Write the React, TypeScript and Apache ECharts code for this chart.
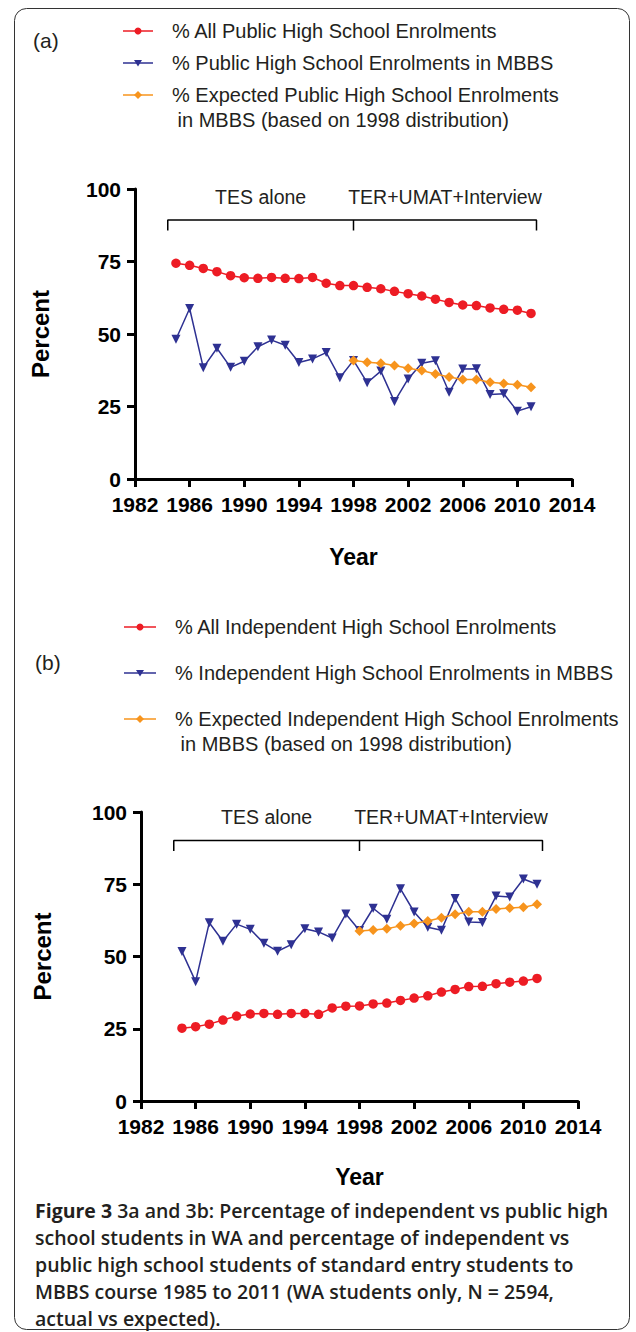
import React, { useEffect, useRef } from "react";
import * as echarts from "echarts";

// ---------- data ----------
const YEARS = [1985, 1986, 1987, 1988, 1989, 1990, 1991, 1992, 1993, 1994, 1995, 1996, 1997, 1998, 1999, 2000, 2001, 2002, 2003, 2004, 2005, 2006, 2007, 2008, 2009, 2010, 2011];
const EXP_YEARS = [1998, 1999, 2000, 2001, 2002, 2003, 2004, 2005, 2006, 2007, 2008, 2009, 2010, 2011];

const A_ALL_PUBLIC = [74.4, 73.7, 72.6, 71.5, 70.1, 69.4, 69.2, 69.5, 69.2, 69.1, 69.5, 67.5, 66.7, 66.7, 66.1, 65.6, 64.7, 63.9, 63.1, 62.0, 60.9, 60.0, 59.8, 59.0, 58.5, 58.2, 57.1];
const A_PUBLIC_MBBS = [48.2, 58.8, 38.4, 45.1, 38.5, 40.6, 45.6, 47.9, 46.1, 40.2, 41.4, 43.6, 34.9, 40.9, 33.2, 37.2, 26.7, 34.5, 39.9, 40.8, 29.9, 37.9, 38.0, 29.1, 29.4, 23.4, 24.9];
const A_EXPECTED = [40.9, 40.3, 39.9, 39.1, 38.2, 37.4, 36.2, 35.2, 34.3, 34.3, 33.4, 32.9, 32.5, 31.6];

const B_ALL_INDEP = [25.2, 25.7, 26.6, 28.0, 29.4, 30.1, 30.3, 30.0, 30.3, 30.3, 30.0, 32.2, 32.8, 32.9, 33.6, 33.9, 34.8, 35.6, 36.4, 37.7, 38.6, 39.6, 39.7, 40.6, 41.1, 41.5, 42.4];
const B_INDEP_MBBS = [51.7, 41.3, 61.7, 55.3, 61.2, 59.4, 54.6, 51.8, 54.1, 59.6, 58.5, 56.4, 64.7, 59.0, 66.7, 62.9, 73.4, 65.4, 60.1, 59.1, 70.1, 61.9, 61.8, 70.9, 70.6, 76.8, 75.0];
const B_EXPECTED = [58.8, 59.2, 59.6, 60.6, 61.4, 62.3, 63.4, 64.6, 65.5, 65.5, 66.4, 66.8, 67.0, 68.1];

const A_NAMES = [
  "% All Public High School Enrolments",
  "% Public High School Enrolments in MBBS",
  "% Expected Public High School Enrolments\n in MBBS (based on 1998 distribution)",
];
const B_NAMES = [
  "% All Independent High School Enrolments",
  "% Independent High School Enrolments in MBBS",
  "% Expected Independent High School Enrolments\n in MBBS (based on 1998 distribution)",
];

// period brackets (years) and labels
const PERIOD_LABELS = ["TES alone", "TER+UMAT+Interview"];
const PERIOD_BOUNDS = [1984.4, 1998, 2011.4];

const CAPTION_LINES = [
  "{b|Figure 3} 3a and 3b: Percentage of independent vs public high",
  "school students in WA and percentage of independent vs",
  "public high school students of standard entry students to",
  "MBBS course 1985 to 2011 (WA students only, N = 2594,",
  "actual vs expected).",
];

export default function App() {
  const ref = useRef<HTMLDivElement>(null);

  useEffect(() => {
    const chart = echarts.init(ref.current!, null, { renderer: "svg" });
    const FONT = "Liberation Sans, Arial, Helvetica, sans-serif";
    const CAP_FONT = "Open Sans, Noto Sans, sans-serif";
    const RED = "#ED1C24";
    const BLUE = "#2E3192";
    const ORANGE = "#F7941D";
    const TXT = "#231F20";

    const pair = (xs: number[], ys: number[]) => xs.map((x, i) => [x, ys[i]]);

    const grids = [
      { left: 135, top: 189, width: 437, height: 290 },
      { left: 141, top: 812, width: 437, height: 289 },
    ];
    const bracketY = [89.3, 90.1];
    const tickLen = 3.6;

    const xAxis = grids.map((_, i) => ({
      type: "value",
      gridIndex: i,
      min: 1982,
      max: 2014,
      interval: 4,
      axisLine: { show: true, onZero: false, lineStyle: { color: "#000", width: 3 } },
      axisTick: { show: true, inside: false, length: 8, lineStyle: { color: "#000", width: 3 } },
      axisLabel: {
        color: "#000", fontWeight: "bold", fontSize: 21, fontFamily: FONT, margin: 15,
        formatter: (v: number) => String(v),
      },
      splitLine: { show: false },
      name: "Year",
      nameLocation: "middle",
      nameGap: i === 0 ? 66 : 64,
      nameTextStyle: { color: "#000", fontWeight: "bold", fontSize: 23, fontFamily: FONT },
    }));
    const yAxis = grids.map((_, i) => ({
      type: "value",
      gridIndex: i,
      min: 0,
      max: 100,
      interval: 25,
      axisLine: { show: true, onZero: false, lineStyle: { color: "#000", width: 3 } },
      axisTick: { show: true, inside: false, length: 8, lineStyle: { color: "#000", width: 3 } },
      axisLabel: { color: "#000", fontWeight: "bold", fontSize: 21, fontFamily: FONT, margin: 14 },
      splitLine: { show: false },
      name: "Percent",
      nameLocation: "middle",
      nameRotate: 90,
      nameGap: i === 0 ? 83 : 87,
      nameTextStyle: { color: "#000", fontWeight: "bold", fontSize: 24, fontFamily: FONT },
    }));

    const mkSeries = (i: number, names: string[], all: number[], mbbs: number[], exp: number[]) => {
      const b = PERIOD_BOUNDS;
      const y = bracketY[i];
      const t = y - tickLen;
      return [
        {
          type: "line", name: names[1], xAxisIndex: i, yAxisIndex: i,
          data: pair(YEARS, mbbs),
          symbol: "triangle", symbolRotate: 180, symbolSize: 9,
          lineStyle: { color: BLUE, width: 1.5 }, itemStyle: { color: BLUE },
          z: 3,
        },
        {
          type: "line", name: names[2], xAxisIndex: i, yAxisIndex: i,
          data: pair(EXP_YEARS, exp),
          symbol: "diamond", symbolSize: 10,
          lineStyle: { color: ORANGE, width: 1.5 }, itemStyle: { color: ORANGE },
          z: 4,
        },
        {
          type: "line", name: names[0], xAxisIndex: i, yAxisIndex: i,
          data: pair(YEARS, all),
          symbol: "circle", symbolSize: 9.5,
          lineStyle: { color: RED, width: 1.5 }, itemStyle: { color: RED },
          z: 5,
        },
        {
          type: "line", name: "bracket" + i, xAxisIndex: i, yAxisIndex: i, silent: true,
          data: [[b[0], t], [b[0], y], [b[1], y], [b[1], t], [b[1], y], [b[2], y], [b[2], t]],
          symbol: "none",
          lineStyle: { color: "#000", width: 1.5 },
          z: 2,
        },
      ];
    };

    const series = [
      ...mkSeries(0, A_NAMES, A_ALL_PUBLIC, A_PUBLIC_MBBS, A_EXPECTED),
      ...mkSeries(1, B_NAMES, B_ALL_INDEP, B_INDEP_MBBS, B_EXPECTED),
    ];

    chart.setOption({
      animation: false,
      backgroundColor: "#fff",
      grid: grids.map((g) => ({ ...g, containLabel: false })),
      xAxis,
      yAxis,
      series,
    });

    // ---------- graphic elements ----------
    const graphic: any[] = [];
    graphic.push({
      type: "rect", id: "border", z: 0,
      shape: { x: 14.5, y: 8.5, width: 615, height: 1321, r: 12 },
      style: { fill: "none", stroke: "#333", lineWidth: 1 },
    });

    const marker = (kind: string, cx: number, cy: number, color: string) => {
      if (kind === "circle") return { type: "circle", shape: { cx, cy, r: 3.5 }, style: { fill: color } };
      if (kind === "tri")
        return { type: "polygon", shape: { points: [[cx - 4, cy - 3], [cx + 4, cy - 3], [cx, cy + 3.5]] }, style: { fill: color } };
      return { type: "polygon", shape: { points: [[cx, cy - 4], [cx + 4, cy], [cx, cy + 4], [cx - 4, cy]] }, style: { fill: color } };
    };

    const legend = (names: string[], rows: number[], lx1: number, lx2: number, tx: number) => {
      const kinds = ["circle", "tri", "dia"];
      const colors = [RED, BLUE, ORANGE];
      names.forEach((n, k) => {
        const y = rows[k];
        graphic.push({ type: "line", shape: { x1: lx1, y1: y, x2: lx2, y2: y }, style: { stroke: colors[k], lineWidth: 1.5 } });
        graphic.push(marker(kinds[k], (lx1 + lx2) / 2, y, colors[k]));
        const multi = n.includes("\n");
        graphic.push({
          type: "text", x: tx, y: multi ? y - 12.5 : y,
          style: {
            text: n, fill: TXT, fontSize: 20, fontFamily: FONT, lineHeight: 25,
            verticalAlign: multi ? "top" : "middle", align: "left",
          },
        });
      });
    };
    legend(A_NAMES, [31, 63, 95], 123, 153, 172);
    legend(B_NAMES, [627, 673, 719], 124, 156, 175);

    graphic.push({ type: "text", x: 33, y: 40, style: { text: "(a)", fill: TXT, fontSize: 21, fontFamily: FONT, verticalAlign: "middle" } });
    graphic.push({ type: "text", x: 35, y: 662, style: { text: "(b)", fill: TXT, fontSize: 21, fontFamily: FONT, verticalAlign: "middle" } });

    // period labels above brackets
    [0, 1].forEach((gi) => {
      PERIOD_LABELS.forEach((lab, k) => {
        const mid = (PERIOD_BOUNDS[k] + PERIOD_BOUNDS[k + 1]) / 2;
        const p = chart.convertToPixel({ gridIndex: gi } as any, [mid, gi === 0 ? 97.2 : 98.2]) as number[];
        graphic.push({
          type: "text", x: p[0], y: p[1],
          style: { text: lab, fill: TXT, fontSize: 19.5, fontFamily: FONT, align: "center", verticalAlign: "middle" },
        });
      });
    });

    // caption, one text per line
    CAPTION_LINES.forEach((line, k) => {
      graphic.push({
        type: "text", x: 35, y: 1210 + k * 27,
        style: {
          text: line,
          fill: TXT, fontSize: 19.5, fontWeight: 600, fontFamily: CAP_FONT,
          lineHeight: 19, verticalAlign: "middle", align: "left",
          rich: { b: { fontWeight: "bold", fontSize: 19.5, fontFamily: CAP_FONT, fill: TXT, lineHeight: 19 } },
        },
      });
    });

    chart.setOption({ graphic });

    return () => chart.dispose();
  }, []);

  return <div ref={ref} style={{ position: "absolute", left: 0, top: 0, width: 636, height: 1332 }} />;
}
